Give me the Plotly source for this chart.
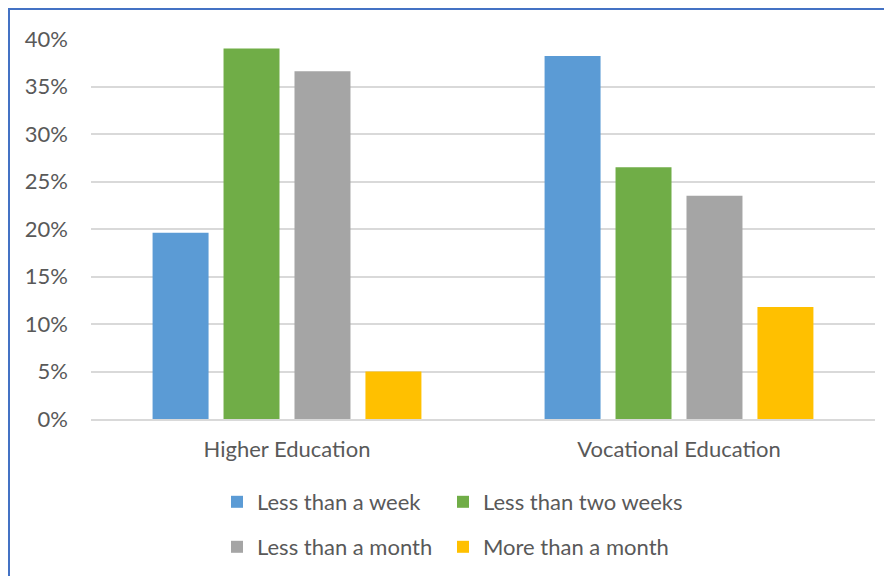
import plotly.graph_objects as go

categories = ["Higher Education", "Vocational Education"]
series_names = ["Less than a week", "Less than two weeks", "Less than a month", "More than a month"]
less_week = [0.196, 0.382]
less_two_weeks = [0.390, 0.265]
less_month = [0.366, 0.235]
more_month = [0.050, 0.118]
colors = ["#5B9BD5", "#70AD47", "#A5A5A5", "#FFC000"]
tick_vals = [0, 0.05, 0.10, 0.15, 0.20, 0.25, 0.30, 0.35, 0.40]
tick_text = ["0%", "5%", "10%", "15%", "20%", "25%", "30%", "35%", "40%"]

OFF = 8  # default page body margin
W, H = 892 - OFF, 576 - OFF
plot_left, plot_right, plot_top, plot_bottom = 91, 875, 39, 419  # page pixels
L = plot_left - OFF
T = plot_top - OFF
R = W - (plot_right - OFF)
B = H - (plot_bottom - OFF)
pw, ph = W - L - R, H - T - B

font = dict(family="Lato, 'Open Sans', sans-serif", size=22, color="#595959")

def px(x):
    return (x - plot_left) / pw

def py(y):
    return (plot_bottom - y) / ph

fig = go.Figure()
values = [less_week, less_two_weeks, less_month, more_month]
legend_ids = ["legend", "legend2", "legend3", "legend4"]
legend_pos = [(217, 502), (443, 502), (217, 547), (443, 547)]  # page pixels
for name, vals, col, lg in zip(series_names, values, colors, legend_ids):
    fig.add_trace(go.Bar(x=categories, y=vals, name=name, marker=dict(color=col, line=dict(width=0)),
                         legend=lg))

fig.add_shape(type="rect", xref="paper", yref="paper",
              x0=px(9), x1=px(905), y0=py(600), y1=py(9),
              line=dict(color="#4472C4", width=2), layer="above")

leg_layout = {}
for lg, (lx, ly) in zip(legend_ids, legend_pos):
    leg_layout[lg] = dict(orientation="h", font=font, bgcolor="rgba(0,0,0,0)",
                          x=px(lx), y=py(ly), xanchor="left", yanchor="middle",
                          itemclick=False)

fig.update_layout(
    width=W, height=H,
    margin=dict(l=L, r=R, t=T, b=B, pad=0, autoexpand=False),
    paper_bgcolor="white", plot_bgcolor="white",
    font=font,
    barmode="group", bargap=0.276, bargroupgap=0.211,
    showlegend=True,
    xaxis=dict(showgrid=False, showline=True, linecolor="#D9D9D9", linewidth=2,
               ticks="", ticklabelstandoff=10, tickfont=font, automargin=False),
    yaxis=dict(range=[0, 0.4], tickvals=tick_vals, ticktext=tick_text,
               showgrid=True, gridcolor="#D9D9D9", gridwidth=2, zeroline=False,
               showline=False, ticks="", ticklabelstandoff=22, tickfont=font, automargin=False),
    **leg_layout,
)
fig.write_html("out.html")
